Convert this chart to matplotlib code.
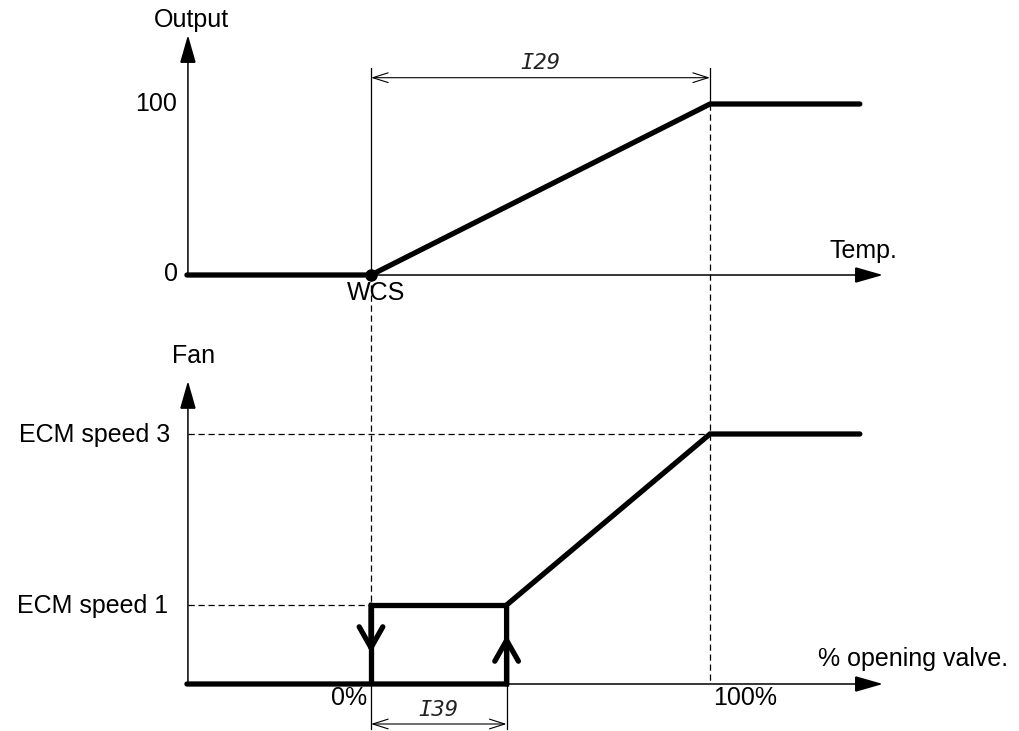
import matplotlib
matplotlib.use("Agg")
import matplotlib.pyplot as plt

plt.rcParams['font.family'] = ['Liberation Sans', 'DejaVu Sans']

# ---------------- data (chart units) ----------------
# horizontal scale: % opening valve (0% = WCS, 100% = end of I29 band)
axis_start = -54.0          # where both axes start (left)
axis_end = 151.0            # arrow tip of x axes
line_end = 144.2            # end of plotted curves
wcs = 0.0
full = 100.0
i39 = 40.0                  # hysteresis band width (I39)

# top panel : output vs temperature
temp_x = [-54.3, wcs, full, line_end]
output_y = [0, 0, 100, 100]
out_axis_top = 140.3

# bottom panel : fan speed (percent of ECM speed 3)
ecm_speed1 = 31.6
ecm_speed3 = 100.0
fan_x = [-54.3, i39, i39, full, line_end]
fan_y = [0, 0, ecm_speed1, ecm_speed3, ecm_speed3]
hyst_x = [wcs, wcs, i39]
hyst_y = [0, ecm_speed1, ecm_speed1]
fan_axis_top = 121.2

# ---------------- layout (pixels) ----------------
W, H = 1019, 731
X0PX, XSC = 371, 3.39
Y0T, YST = 275, 1.71
Y0B, YSB = 684, 2.5

fig = plt.figure(figsize=(W / 100, H / 100), dpi=100)
axt = fig.add_axes([0, 0, 1, 1])
axb = fig.add_axes([0, 0, 1, 1])
for ax in (axt, axb):
    ax.set_xlim(-X0PX / XSC, (W - X0PX) / XSC)
    ax.axis('off')
    ax.patch.set_alpha(0)
axt.set_ylim((Y0T - H) / YST, Y0T / YST)
axb.set_ylim((Y0B - H) / YSB, Y0B / YSB)

K = 'black'
THICK = 3.8
THIN = 1.1
DASH = (0, (5, 3))
FS = 18
DIMFS = 16

def arrow(ax, p0, p1, style='-|>,head_length=1.75,head_width=0.5', lw=THIN):
    ax.annotate('', xy=p1, xytext=p0,
                arrowprops=dict(arrowstyle=style, color=K, lw=lw,
                                shrinkA=0, shrinkB=0, mutation_scale=10,
                                joinstyle='miter'))

# ---------- top panel ----------
arrow(axt, (axis_start, 0), (axis_start, out_axis_top))
arrow(axt, (axis_start, 0), (axis_end, 0))
axt.plot(temp_x, output_y, color=K, lw=THICK, solid_capstyle='round',
         solid_joinstyle='round', zorder=3)
axt.plot([wcs], [0], 'o', color=K, ms=8, zorder=4)

# I29 dimension
dim_top = (Y0T - 77.7) / YST
ext_top = (Y0T - 68) / YST
axt.plot([wcs, wcs], [0, ext_top], color=K, lw=0.9)
axt.plot([full, full], [100, ext_top], color=K, lw=0.9)
arrow(axt, (wcs, dim_top), (full, dim_top),
      style='<->,head_length=1.1,head_width=0.35', lw=0.8)
axt.annotate('I29', xy=((wcs + full) / 2, dim_top), xytext=(0, 5),
             textcoords='offset pixels', ha='center', va='bottom',
             fontsize=DIMFS, style='italic', family='DejaVu Sans Mono',
             color='#222222')

axt.annotate('Output', xy=(axis_start, out_axis_top), xytext=(3, 8),
             textcoords='offset pixels', ha='center', va='baseline', fontsize=FS)
axt.annotate('100', xy=(axis_start, 100), xytext=(-11, 0),
             textcoords='offset pixels', ha='right', va='center', fontsize=FS)
axt.annotate('0', xy=(axis_start, 0), xytext=(-10, 1),
             textcoords='offset pixels', ha='right', va='center', fontsize=FS)
axt.annotate('Temp.', xy=(axis_end, 0), xytext=(-19, 17),
             textcoords='offset pixels', ha='center', va='baseline', fontsize=FS)
axt.annotate('WCS', xy=(wcs, 0), xytext=(5, -25),
             textcoords='offset pixels', ha='center', va='baseline', fontsize=FS)

# ---------- bottom panel ----------
arrow(axb, (axis_start, 0), (axis_start, fan_axis_top))
arrow(axb, (axis_start, 0), (axis_end, 0))

# dashed guides
top_in_b = (Y0B - Y0T) / YSB
axb.plot([wcs, wcs], [top_in_b, ecm_speed1], color=K, lw=0.9, ls=DASH)
axb.plot([full, full], [(Y0B - 104) / YSB, 0], color=K, lw=0.9, ls=DASH)
axb.plot([axis_start, full], [ecm_speed3] * 2, color=K, lw=0.9, ls=DASH)
axb.plot([axis_start, wcs], [ecm_speed1] * 2, color=K, lw=0.9, ls=DASH)

axb.plot(fan_x, fan_y, color=K, lw=THICK, solid_capstyle='round',
         solid_joinstyle='miter', zorder=3)
axb.plot(hyst_x, hyst_y, color=K, lw=THICK, solid_capstyle='butt',
         solid_joinstyle='miter', zorder=3)
# hysteresis direction chevrons
arrow(axb, (wcs, ecm_speed1), (wcs, (Y0B - 653) / YSB),
      style='->,head_length=1.5,head_width=0.85', lw=THICK)
arrow(axb, (i39, 0), (i39, (Y0B - 635) / YSB),
      style='->,head_length=1.5,head_width=0.85', lw=THICK)

# I39 dimension
dim_bot = (Y0B - 724) / YSB
ext_bot = (Y0B - 729) / YSB
axb.plot([wcs, wcs], [0, ext_bot], color=K, lw=0.9)
axb.plot([i39, i39], [0, ext_bot], color=K, lw=0.9)
arrow(axb, (wcs, dim_bot), (i39, dim_bot),
      style='<->,head_length=1.1,head_width=0.35', lw=0.8)
axb.annotate('I39', xy=((wcs + i39) / 2, dim_bot), xytext=(0, 4),
             textcoords='offset pixels', ha='center', va='bottom',
             fontsize=DIMFS, style='italic', family='DejaVu Sans Mono',
             color='#222222')

axb.annotate('Fan', xy=(axis_start, fan_axis_top), xytext=(6, 18),
             textcoords='offset pixels', ha='center', va='baseline', fontsize=FS)
axb.annotate('ECM speed 3', xy=(axis_start, ecm_speed3), xytext=(-18, -8),
             textcoords='offset pixels', ha='right', va='baseline', fontsize=FS)
axb.annotate('ECM speed 1', xy=(axis_start, ecm_speed1), xytext=(-20, -8),
             textcoords='offset pixels', ha='right', va='baseline', fontsize=FS)
axb.annotate('% opening valve.', xy=(axis_end, 0), xytext=(30, 18),
             textcoords='offset pixels', ha='center', va='baseline', fontsize=FS)
axb.annotate('0%', xy=(wcs, 0), xytext=(-22, -21),
             textcoords='offset pixels', ha='center', va='baseline', fontsize=FS)
axb.annotate('100%', xy=(full, 0), xytext=(35, -21),
             textcoords='offset pixels', ha='center', va='baseline', fontsize=FS)

fig.savefig('out.png', dpi=100, facecolor='white')
